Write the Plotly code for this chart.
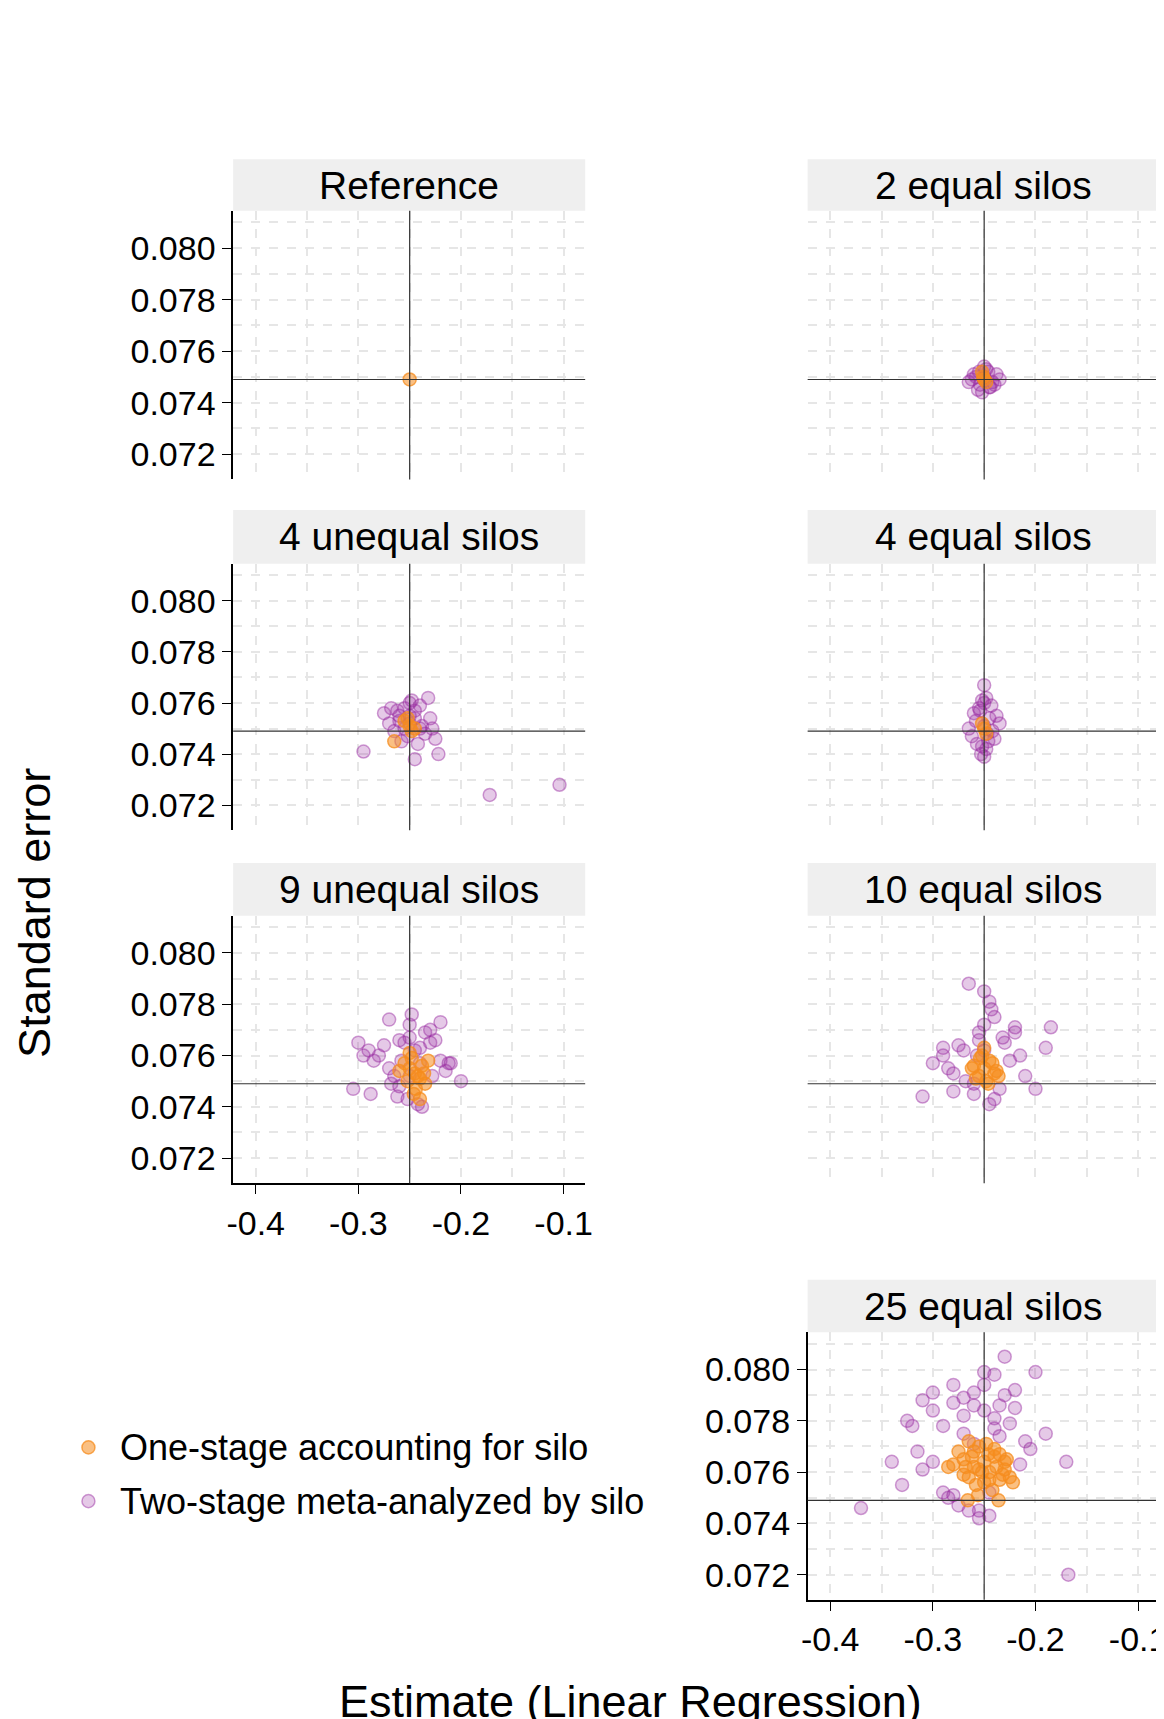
import plotly.graph_objects as go

panels = ["Reference", "2 equal silos", "4 unequal silos", "4 equal silos",
          "9 unequal silos", "10 equal silos", "25 equal silos"]
ref_x, ref_y = -0.25, 0.0749

one_x = {
 "Reference": [-0.25],
 "2 equal silos": [-0.25, -0.252, -0.248, -0.251],
 "4 unequal silos": [-0.25, -0.255, -0.245, -0.265, -0.248, -0.252],
 "4 equal silos": [-0.25, -0.252, -0.248],
 "9 unequal silos": [-0.245, -0.25, -0.24, -0.255, -0.235, -0.248, -0.242, -0.238, -0.252, -0.246, -0.26, -0.232, -0.244, -0.25, -0.24, -0.236],
 "10 equal silos": [-0.25, -0.255, -0.245, -0.26, -0.24, -0.252, -0.248, -0.242, -0.258, -0.238, -0.25, -0.246, -0.254, -0.236, -0.262],
 "25 equal silos": [-0.28, -0.27, -0.26, -0.25, -0.24, -0.23, -0.225, -0.275, -0.265, -0.255, -0.245, -0.235, -0.228, -0.27, -0.26, -0.25, -0.24, -0.23, -0.265, -0.255, -0.245, -0.235, -0.258, -0.248, -0.238, -0.268, -0.242, -0.252, -0.262, -0.232, -0.222, -0.285, -0.236, -0.266, -0.256, -0.246],
}
one_y = {
 "Reference": [0.0749],
 "2 equal silos": [0.0749, 0.0752, 0.0748, 0.0750],
 "4 unequal silos": [0.0751, 0.0753, 0.0750, 0.0745, 0.0749, 0.0754],
 "4 equal silos": [0.0750, 0.0752, 0.0748],
 "9 unequal silos": [0.0753, 0.0755, 0.0751, 0.0757, 0.0749, 0.0759, 0.0752, 0.0756, 0.0750, 0.0745, 0.0754, 0.0758, 0.0747, 0.0761, 0.0743, 0.0753],
 "10 equal silos": [0.0755, 0.0752, 0.0758, 0.0756, 0.0753, 0.0760, 0.0750, 0.0757, 0.0751, 0.0754, 0.0763, 0.0749, 0.0759, 0.0752, 0.0755],
 "25 equal silos": [0.0763, 0.0765, 0.0762, 0.0764, 0.0766, 0.0761, 0.0758, 0.0768, 0.0758, 0.0770, 0.0760, 0.0757, 0.0765, 0.0759, 0.0768, 0.0756, 0.0769, 0.0764, 0.0772, 0.0761, 0.0757, 0.0767, 0.0755, 0.0771, 0.0762, 0.0762, 0.0753, 0.0760, 0.0766, 0.0759, 0.0756, 0.0762, 0.0749, 0.0749, 0.0751, 0.0767],
}
two_x = {
 "Reference": [],
 "2 equal silos": [-0.25, -0.258, -0.242, -0.262, -0.238, -0.254, -0.246, -0.25, -0.265, -0.235, -0.256, -0.244, -0.252, -0.248, -0.26, -0.24, -0.25, -0.255, -0.245],
 "4 unequal silos": [-0.25, -0.26, -0.24, -0.27, -0.23, -0.255, -0.245, -0.265, -0.235, -0.25, -0.26, -0.24, -0.275, -0.225, -0.252, -0.248, -0.262, -0.238, -0.295, -0.172, -0.104, -0.222, -0.245, -0.258, -0.242, -0.268, -0.232, -0.25, -0.228, -0.255, -0.245],
 "4 equal silos": [-0.25, -0.258, -0.242, -0.262, -0.238, -0.254, -0.246, -0.25, -0.265, -0.235, -0.252, -0.248, -0.26, -0.24, -0.25, -0.255, -0.245, -0.253, -0.247, -0.257, -0.243, -0.25, -0.248, -0.252],
 "9 unequal silos": [-0.3, -0.29, -0.28, -0.27, -0.26, -0.25, -0.24, -0.23, -0.22, -0.21, -0.2, -0.285, -0.275, -0.265, -0.255, -0.245, -0.235, -0.225, -0.215, -0.305, -0.295, -0.27, -0.26, -0.25, -0.24, -0.23, -0.22, -0.262, -0.252, -0.242, -0.248, -0.258, -0.238, -0.288, -0.228, -0.212, -0.25, -0.268],
 "10 equal silos": [-0.31, -0.3, -0.29, -0.28, -0.27, -0.26, -0.25, -0.24, -0.23, -0.22, -0.21, -0.2, -0.185, -0.19, -0.265, -0.255, -0.245, -0.235, -0.275, -0.285, -0.225, -0.215, -0.26, -0.25, -0.24, -0.255, -0.245, -0.268, -0.232, -0.25, -0.243, -0.257, -0.22, -0.28, -0.29],
 "25 equal silos": [-0.37, -0.34, -0.33, -0.32, -0.31, -0.3, -0.29, -0.28, -0.27, -0.26, -0.25, -0.24, -0.23, -0.22, -0.21, -0.2, -0.19, -0.17, -0.168, -0.3, -0.29, -0.28, -0.27, -0.26, -0.25, -0.24, -0.23, -0.22, -0.31, -0.285, -0.275, -0.265, -0.255, -0.245, -0.235, -0.225, -0.215, -0.26, -0.25, -0.24, -0.28, -0.3, -0.27, -0.235, -0.205, -0.325, -0.315, -0.255, -0.245],
}
two_y = {
 "Reference": [],
 "2 equal silos": [0.0749, 0.0750, 0.0748, 0.0749, 0.0751, 0.0747, 0.0752, 0.0754, 0.0748, 0.0749, 0.0745, 0.0746, 0.0744, 0.0753, 0.0751, 0.0747, 0.0750, 0.0752, 0.0746],
 "4 unequal silos": [0.0752, 0.0755, 0.0750, 0.0752, 0.0754, 0.0758, 0.0757, 0.0749, 0.0748, 0.0760, 0.0753, 0.0759, 0.0756, 0.0746, 0.0747, 0.0761, 0.0757, 0.0751, 0.0741, 0.0724, 0.0728, 0.0740, 0.0738, 0.0745, 0.0744, 0.0758, 0.0762, 0.0755, 0.0750, 0.0750, 0.0754],
 "4 equal silos": [0.0751, 0.0753, 0.0749, 0.0747, 0.0755, 0.0757, 0.0745, 0.0760, 0.0750, 0.0752, 0.0743, 0.0742, 0.0756, 0.0746, 0.0767, 0.0758, 0.0754, 0.0740, 0.0748, 0.0744, 0.0759, 0.0739, 0.0762, 0.0761],
 "9 unequal silos": [0.0765, 0.0762, 0.0760, 0.0755, 0.0766, 0.0767, 0.0763, 0.0770, 0.0758, 0.0757, 0.0750, 0.0758, 0.0764, 0.0752, 0.0765, 0.0762, 0.0769, 0.0766, 0.0754, 0.0747, 0.0760, 0.0774, 0.0748, 0.0772, 0.0757, 0.0765, 0.0773, 0.0744, 0.0743, 0.0741, 0.0776, 0.0758, 0.0740, 0.0745, 0.0752, 0.0757, 0.0752, 0.0749],
 "10 equal silos": [0.0744, 0.0757, 0.0760, 0.0753, 0.0762, 0.0749, 0.0785, 0.0775, 0.0765, 0.0771, 0.0752, 0.0747, 0.0771, 0.0763, 0.0788, 0.0769, 0.0781, 0.0747, 0.0764, 0.0755, 0.0758, 0.0760, 0.0745, 0.0772, 0.0743, 0.0766, 0.0741, 0.0750, 0.0767, 0.0762, 0.0778, 0.0760, 0.0769, 0.0746, 0.0763],
 "25 equal silos": [0.0746, 0.0764, 0.0755, 0.0778, 0.0788, 0.0791, 0.0778, 0.0794, 0.0789, 0.0786, 0.0799, 0.0798, 0.0805, 0.0792, 0.0772, 0.0799, 0.0775, 0.0764, 0.0720, 0.0764, 0.0752, 0.0787, 0.0782, 0.0771, 0.0784, 0.0781, 0.0790, 0.0785, 0.0761, 0.0750, 0.0747, 0.0745, 0.0742, 0.0752, 0.0786, 0.0779, 0.0763, 0.0791, 0.0794, 0.0777, 0.0751, 0.0784, 0.0775, 0.0774, 0.0769, 0.0780, 0.0768, 0.0745, 0.0743],
}

x_ticks = [-0.4, -0.3, -0.2, -0.1]
x_tick_labels = ["-0.4", "-0.3", "-0.2", "-0.1"]
y_ticks = [0.072, 0.074, 0.076, 0.078, 0.080]
y_tick_labels = ["0.072", "0.074", "0.076", "0.078", "0.080"]

W, H = 1064, 1568
cols = [(202, 528), (734, 1060)]
rows = [(138, 185, 430), (458, 507, 750), (780, 828, 1072), (1160, 1208, 1452)]
pos = {
 "Reference": (0, 0, True, False), "2 equal silos": (0, 1, False, False),
 "4 unequal silos": (1, 0, True, False), "4 equal silos": (1, 1, False, False),
 "9 unequal silos": (2, 0, True, True), "10 equal silos": (2, 1, False, False),
 "25 equal silos": (3, 1, True, True),
}
ORANGE = "rgba(245,140,30,0.55)"
ORANGE_LINE = "rgba(245,140,30,0.75)"
PURPLE = "rgba(150,40,160,0.25)"
PURPLE_LINE = "rgba(150,40,160,0.45)"

fig = go.Figure()
shapes, annots = [], []
font = "Arial, Liberation Sans, sans-serif"
grid = dict(showgrid=True, gridcolor="#e6e6e6", griddash="dash", gridwidth=2)
for i, p in enumerate(panels):
    r, c, showy, showx = pos[p]
    x0, x1 = cols[c]
    st, top, bot = rows[r]
    n = "" if i == 0 else str(i + 1)
    xa, ya = "x" + n, "y" + n
    fig.add_trace(go.Scatter(x=two_x[p], y=two_y[p], mode="markers", xaxis=xa, yaxis=ya,
        marker=dict(size=13, color=PURPLE, line=dict(color=PURPLE_LINE, width=1.5)),
        name="Two-stage meta-analyzed by silo", showlegend=False))
    fig.add_trace(go.Scatter(x=one_x[p], y=one_y[p], mode="markers", xaxis=xa, yaxis=ya,
        marker=dict(size=13, color=ORANGE, line=dict(color=ORANGE_LINE, width=1.5)),
        name="One-stage accounting for silo", showlegend=False))
    common = dict(zeroline=False, tickfont=dict(size=34, color="black", family=font),
                  ticklen=9, tickcolor="black", linecolor="black", linewidth=1.5, **grid)
    fig.layout["xaxis" + n] = dict(domain=[x0 / W, x1 / W], anchor=ya, range=[-0.422, -0.079],
        tickvals=x_ticks, ticktext=x_tick_labels, showticklabels=showx,
        ticks="outside" if showx else "", showline=showx,
        minor=dict(dtick=0.05, tick0=-0.4, **grid), **common)
    fig.layout["yaxis" + n] = dict(domain=[1 - bot / H, 1 - top / H], anchor=xa, range=[0.07102, 0.08145],
        tickvals=y_ticks, ticktext=y_tick_labels, showticklabels=showy,
        ticks="outside" if showy else "", showline=showy,
        minor=dict(dtick=0.001, tick0=0.072, **grid), **common)
    shapes.append(dict(type="line", xref=xa, yref=ya + " domain", x0=ref_x, x1=ref_x, y0=0, y1=1,
                       line=dict(color="#333", width=1.2)))
    shapes.append(dict(type="line", xref=xa + " domain", yref=ya, x0=0, x1=1, y0=ref_y, y1=ref_y,
                       line=dict(color="#333", width=1.2)))
    shapes.append(dict(type="rect", xref="paper", yref="paper", x0=x0 / W, x1=x1 / W,
                       y0=1 - top / H, y1=1 - st / H, fillcolor="#efefef", line=dict(width=0), layer="below"))
    annots.append(dict(text=p, xref="paper", yref="paper", x=(x0 + x1) / 2 / W, y=1 - (st + top) / 2 / H,
                       xanchor="center", yanchor="middle",
                       showarrow=False, font=dict(size=39, color="black", family=font)))

annots.append(dict(text="Standard error", xref="paper", yref="paper", x=18 / W, y=1 - 825 / H,
                   xanchor="center", yanchor="middle",
                   textangle=-90, showarrow=False, font=dict(size=45, color="black", family=font)))
annots.append(dict(text="Estimate (Linear Regression)", xref="paper", yref="paper", x=570 / W, y=1 - 1545 / H,
                   xanchor="center", yanchor="middle",
                   showarrow=False, font=dict(size=45, color="black", family=font)))
for label, yy, col, lc in [("One-stage accounting for silo", 1313, ORANGE, ORANGE_LINE),
                           ("Two-stage meta-analyzed by silo", 1362, PURPLE, PURPLE_LINE)]:
    annots.append(dict(text=label, xref="paper", yref="paper", x=95 / W, y=1 - yy / H,
                       xanchor="left", yanchor="middle",
                       showarrow=False, font=dict(size=36, color="black", family=font)))
    shapes.append(dict(type="circle", xref="paper", yref="paper", x0=62 / W, x1=74 / W,
                       y0=1 - (yy + 6) / H, y1=1 - (yy - 6) / H, fillcolor=col, line=dict(color=lc, width=1.5)))

fig.update_layout(width=1164, height=1719, margin=dict(l=0, r=0, t=0, b=0),
                  plot_bgcolor="white", paper_bgcolor="white", shapes=shapes, annotations=annots,
                  showlegend=False)
fig.write_html("out.html")
